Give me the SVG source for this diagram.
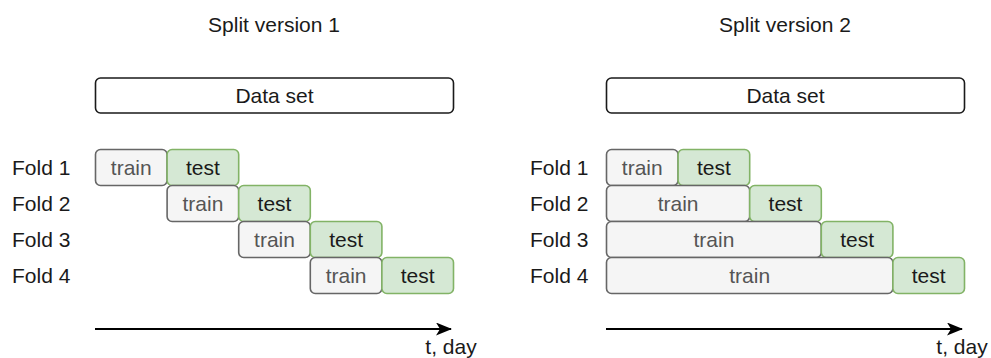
<svg xmlns="http://www.w3.org/2000/svg" width="991" height="358" viewBox="0 0 991 358">
<defs>
<style>
text{font-family:"Liberation Sans",Arial,sans-serif;font-size:21px;}
.t{fill:#1a1a1a;text-anchor:middle;}
.lbl{fill:#1a1a1a;}
.ds{fill:#ffffff;stroke:#1a1a1a;stroke-width:1.6;}
.tr{fill:#f5f5f5;stroke:#666666;stroke-width:1.6;}
.te{fill:#d5e8d4;stroke:#82b366;stroke-width:1.6;}
.trt{fill:#555555;text-anchor:middle;}
.tet{fill:#1a1a1a;text-anchor:middle;}
.ax{stroke:#000;stroke-width:2;fill:none;}
</style>
<marker id="ah" viewBox="0 0 16 13" refX="15" refY="6.5" markerWidth="16" markerHeight="13" markerUnits="userSpaceOnUse" orient="auto">
<path d="M0,0 L16,6.5 L0,13 L4,6.5 Z" fill="#000"/>
</marker>
</defs>
<rect width="991" height="358" fill="#ffffff"/>
<text class="t" x="274" y="32">Split version 1</text>
<text class="t" x="785" y="32">Split version 2</text>

<g id="left-dataset"><rect class="ds" x="95.5" y="78" width="358" height="35" rx="5"/><text class="t" x="274.5" y="103">Data set</text></g>
<g id="right-dataset"><rect class="ds" x="606.5" y="78" width="358" height="35" rx="5"/><text class="t" x="785.5" y="103">Data set</text></g>

<g id="left-labels">
<text class="lbl" x="12" y="175">Fold 1</text>
<text class="lbl" x="12" y="211">Fold 2</text>
<text class="lbl" x="12" y="247">Fold 3</text>
<text class="lbl" x="12" y="283">Fold 4</text>
</g>
<g id="right-labels">
<text class="lbl" x="530" y="175">Fold 1</text>
<text class="lbl" x="530" y="211">Fold 2</text>
<text class="lbl" x="530" y="247">Fold 3</text>
<text class="lbl" x="530" y="283">Fold 4</text>
</g>

<g id="l-f1-train"><rect class="tr" x="95.5" y="149.5" width="71.6" height="36" rx="5"/><text class="trt" x="131.3" y="175">train</text></g>
<g id="l-f1-test"><rect class="te" x="167.1" y="149.5" width="71.6" height="36" rx="5"/><text class="tet" x="202.9" y="175">test</text></g>
<g id="l-f2-train"><rect class="tr" x="167.1" y="185.5" width="71.6" height="36" rx="5"/><text class="trt" x="202.9" y="211">train</text></g>
<g id="l-f2-test"><rect class="te" x="238.7" y="185.5" width="71.6" height="36" rx="5"/><text class="tet" x="274.5" y="211">test</text></g>
<g id="l-f3-train"><rect class="tr" x="238.7" y="221.5" width="71.6" height="36" rx="5"/><text class="trt" x="274.5" y="247">train</text></g>
<g id="l-f3-test"><rect class="te" x="310.3" y="221.5" width="71.6" height="36" rx="5"/><text class="tet" x="346.1" y="247">test</text></g>
<g id="l-f4-train"><rect class="tr" x="310.3" y="257.5" width="71.6" height="36" rx="5"/><text class="trt" x="346.1" y="283">train</text></g>
<g id="l-f4-test"><rect class="te" x="381.9" y="257.5" width="71.6" height="36" rx="5"/><text class="tet" x="417.7" y="283">test</text></g>

<g id="r-f1-train"><rect class="tr" x="606.5" y="149.5" width="71.6" height="36" rx="5"/><text class="trt" x="642.3" y="175">train</text></g>
<g id="r-f1-test"><rect class="te" x="678.1" y="149.5" width="71.6" height="36" rx="5"/><text class="tet" x="713.9" y="175">test</text></g>
<g id="r-f2-train"><rect class="tr" x="606.5" y="185.5" width="143.2" height="36" rx="5"/><text class="trt" x="678.1" y="211">train</text></g>
<g id="r-f2-test"><rect class="te" x="749.7" y="185.5" width="71.6" height="36" rx="5"/><text class="tet" x="785.5" y="211">test</text></g>
<g id="r-f3-train"><rect class="tr" x="606.5" y="221.5" width="214.8" height="36" rx="5"/><text class="trt" x="713.9" y="247">train</text></g>
<g id="r-f3-test"><rect class="te" x="821.3" y="221.5" width="71.6" height="36" rx="5"/><text class="tet" x="857.1" y="247">test</text></g>
<g id="r-f4-train"><rect class="tr" x="606.5" y="257.5" width="286.4" height="36" rx="5"/><text class="trt" x="749.7" y="283">train</text></g>
<g id="r-f4-test"><rect class="te" x="892.9" y="257.5" width="71.6" height="36" rx="5"/><text class="tet" x="928.7" y="283">test</text></g>

<g id="connectors">
<line class="ax" x1="95" y1="329" x2="451" y2="329" marker-end="url(#ah)"/>
<line class="ax" x1="606" y1="329" x2="962" y2="329" marker-end="url(#ah)"/>
</g>
<text class="t" x="451" y="354">t, day</text>
<text class="t" x="962" y="354">t, day</text>
</svg>
